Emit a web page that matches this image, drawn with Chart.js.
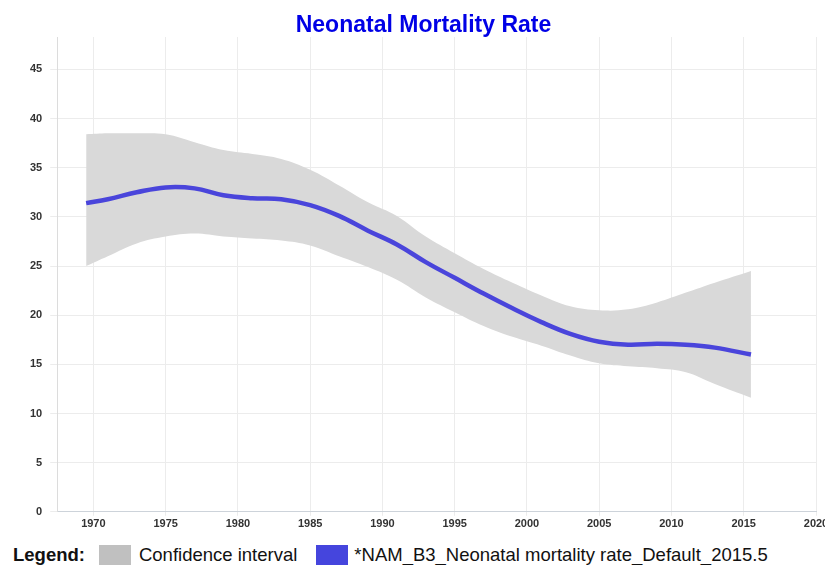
<!DOCTYPE html>
<html>
<head>
<meta charset="utf-8">
<title>Neonatal Mortality Rate</title>
<script src="https://cdn.jsdelivr.net/npm/chart.js@4.4.0/dist/chart.umd.min.js"></script>
<style>
    body { margin: 0; background: #fff; font-family: "Liberation Sans", Arial, sans-serif; overflow: hidden; }
    #wrap { position: relative; width: 825px; height: 565px; overflow: hidden; }
    #legend { position: absolute; left: 13px; top: 545px; height: 22px; display: flex; align-items: flex-start; font-size: 18.5px; color: #111; white-space: nowrap; }
    #legend span.t { line-height: 18px; margin-top: 1px; }
    .swatch { display: inline-block; width: 32px; height: 22px; }
</style>
</head>
<body>
<div id="wrap">
    <canvas id="nmrChart" width="825" height="535"></canvas>
    <div id="legend">
        <span class="t" style="font-weight:bold; margin-right:14px">Legend:</span>
        <span class="swatch" style="background:#c0c0c0; margin-right:8px"></span><span class="t" style="margin-right:19px">Confidence interval</span>
        <span class="swatch" style="background:#4545dd; margin-right:6px"></span><span class="t">*NAM_B3_Neonatal mortality rate_Default_2015.5</span>
    </div>
</div>
<script>
// --- Data ---
const years = [1969.5, 1971, 1973, 1975, 1977, 1979, 1981, 1983, 1985, 1987, 1989, 1991,
               1993, 1995, 1997, 1999, 2001, 2003, 2005, 2007, 2009, 2011, 2013, 2015.5];
const rate  = [31.4, 31.8, 32.5, 33.0, 32.9, 32.2, 31.9, 31.8, 31.2, 30.1, 28.6, 27.2,
               25.4, 23.8, 22.2, 20.7, 19.3, 18.1, 17.3, 17.0, 17.1, 17.0, 16.7, 16.0];
const upper = [38.4, 38.5, 38.5, 38.4, 37.6, 36.8, 36.4, 35.9, 34.8, 33.2, 31.5, 30.1,
               28.0, 26.3, 24.7, 23.3, 22.0, 20.9, 20.5, 20.6, 21.3, 22.3, 23.3, 24.5];
const lower = [25.0, 26.0, 27.3, 28.0, 28.3, 28.0, 27.8, 27.6, 27.1, 26.0, 24.9, 23.6,
               21.8, 20.3, 18.9, 17.8, 16.9, 15.9, 15.1, 14.8, 14.6, 14.2, 13.0, 11.6];
const xTicks = [1970, 1975, 1980, 1985, 1990, 1995, 2000, 2005, 2010, 2015, 2020];
const yTicks = [0, 5, 10, 15, 20, 25, 30, 35, 40, 45];

const toPoints = vals => years.map((yr, i) => ({ x: yr, y: vals[i] }));
const tickFont = { family: 'Liberation Sans', size: 11, weight: 'bold' };

const ctx = document.getElementById('nmrChart').getContext('2d');
const chart = new Chart(ctx, {
    type: 'line',
    data: {
        datasets: [
            {
                label: 'lower',
                data: toPoints(lower),
                borderWidth: 0,
                pointRadius: 0,
                fill: false,
                tension: 0.4,
                order: 2
            },
            {
                label: 'Confidence interval',
                data: toPoints(upper),
                borderWidth: 0,
                pointRadius: 0,
                backgroundColor: '#d9d9d9',
                fill: '-1',
                tension: 0.4,
                order: 2
            },
            {
                label: '*NAM_B3_Neonatal mortality rate_Default_2015.5',
                data: toPoints(rate),
                borderColor: '#4a45db',
                borderWidth: 4.5,
                pointRadius: 0,
                fill: false,
                tension: 0.4,
                order: 1
            }
        ]
    },
    options: {
        responsive: false,
        animation: false,
        layout: { padding: { left: 22, right: 0, bottom: 2 } },
        plugins: {
            legend: { display: false },
            tooltip: { enabled: false },
            title: {
                display: true,
                text: 'Neonatal Mortality Rate',
                color: '#0000e6',
                font: { family: 'Liberation Sans', size: 23, weight: 'bold', lineHeight: 1 },
                padding: { top: 14, bottom: 0 }
            }
        },
        scales: {
            x: {
                type: 'linear',
                min: 1967.5,
                max: 2020,
                afterBuildTicks: scale => { scale.ticks = xTicks.map(v => ({ value: v })); },
                // let the last label run off the edge like the original
                afterFit: scale => { scale.paddingRight = 9; },
                grid: { color: '#ececec', tickLength: 4 },
                border: { color: '#cdd3da' },
                ticks: { color: '#333', font: tickFont, padding: 2, maxRotation: 0, callback: v => String(v) }
            },
            y: {
                min: 0,
                max: 48.3,
                afterBuildTicks: scale => { scale.ticks = yTicks.map(v => ({ value: v })); },
                grid: { color: '#ececec', tickLength: 7 },
                border: { color: '#dcdcdc' },
                ticks: { color: '#333', font: tickFont, padding: 8, callback: v => String(v) }
            }
        }
    }
});
</script>
</body>
</html>
